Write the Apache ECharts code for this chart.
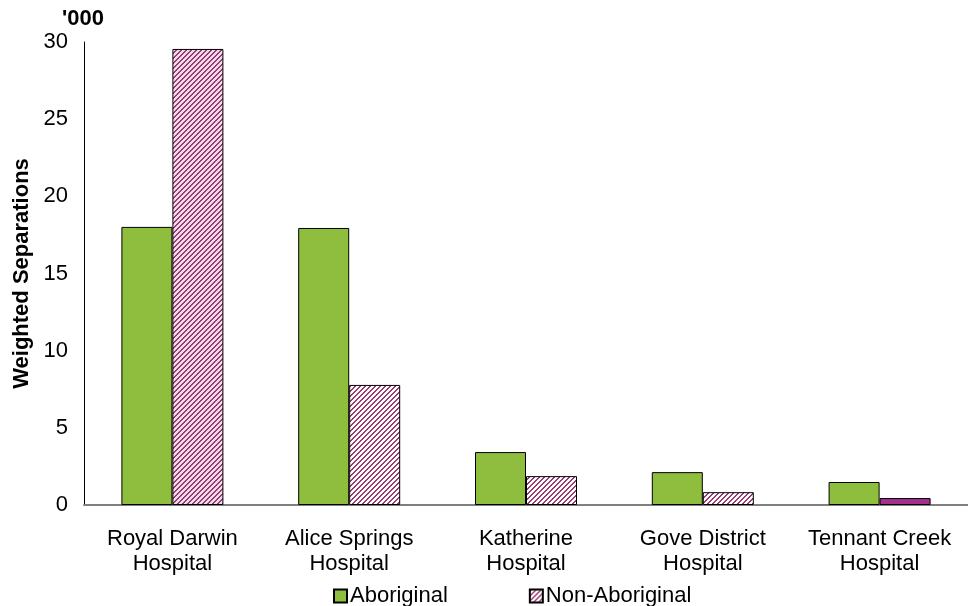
<!DOCTYPE html>
<html>
<head>
<meta charset="utf-8">
<script src="https://cdn.jsdelivr.net/npm/echarts@6/dist/echarts.min.js"></script>
<style>
  html, body { margin: 0; padding: 0; background: #fff; }
  #chart { width: 968px; height: 606px; }
</style>
</head>
<body>
<div id="chart"></div>
<script>
// Weighted separations ('000) by hospital
const hospitals = ['Royal Darwin\nHospital', 'Alice Springs\nHospital', 'Katherine\nHospital', 'Gove District\nHospital', 'Tennant Creek\nHospital'];
const aboriginal = [18.02, 17.95, 3.43, 2.13, 1.49];
const nonAboriginal = [29.55, 7.78, 1.87, 0.83, 0.45];
const yTicks = { min: 0, max: 30, interval: 5 };

const FONT = 'Liberation Sans, Arial, sans-serif';
const FS = 22;
const GREEN = '#8fbd3e';
const MAROON = '#9c3a72';

// Diagonal "/" hatch tile
function hatch(bg, fg) {
  const n = 5;
  const c = document.createElement('canvas');
  c.width = n; c.height = n;
  const ctx = c.getContext('2d');
  ctx.fillStyle = bg;
  ctx.fillRect(0, 0, n, n);
  ctx.fillStyle = fg;
  for (let x = 0; x < n; x++) {
    for (let y = 0; y < n; y++) {
      const k = (x + y) % n;
      if (k === 0 || k === 1) ctx.fillRect(x, y, 1, 1);
    }
  }
  return { image: c, repeat: 'repeat' };
}

const hatchWhite = hatch('#ffffff', MAROON);
const hatchPink = hatch('#f5d8ee', '#94406f');

const nonData = nonAboriginal.map((v, i) => {
  if (i === 0) return { value: v, itemStyle: { color: hatchPink } };
  if (v < 0.6) return { value: v, itemStyle: { color: '#a2308c' } };
  return v;
});

const chart = echarts.init(document.getElementById('chart'), null, { renderer: 'canvas' });
chart.setOption({
  animation: false,
  backgroundColor: '#ffffff',
  grid: { left: 84, right: 0, top: 42, bottom: 101, containLabel: false, outerBoundsMode: 'none' },
  legend: {
    top: 580,
    left: 328,
    itemGap: 81,
    itemWidth: 13,
    itemHeight: 13,
    icon: 'rect',
    textStyle: { fontFamily: FONT, fontSize: FS, color: '#000', padding: [0, 0, 0, -2] },
    data: ['Aboriginal', 'Non-Aboriginal']
  },
  graphic: [
    {
      type: 'text', left: 62, top: 8,
      style: { text: "'000", font: 'bold ' + FS + 'px ' + FONT, fill: '#000' }
    }
  ],
  xAxis: {
    type: 'category',
    data: hospitals,
    axisLine: { show: true, lineStyle: { color: '#808080', width: 2 } },
    axisTick: { show: false },
    axisLabel: { fontFamily: FONT, fontSize: FS, color: '#000', lineHeight: 25, margin: 21, interval: 0 }
  },
  yAxis: {
    type: 'value',
    min: yTicks.min, max: yTicks.max, interval: yTicks.interval,
    name: 'Weighted Separations',
    nameLocation: 'middle',
    nameRotate: 90,
    nameGap: 51,
    nameTextStyle: { fontFamily: FONT, fontSize: FS, fontWeight: 'bold', color: '#000' },
    axisLine: { show: true, lineStyle: { color: '#000', width: 1 } },
    axisTick: { show: false },
    splitLine: { show: false },
    axisLabel: { fontFamily: FONT, fontSize: FS, color: '#000', margin: 16 }
  },
  series: [
    {
      name: 'Aboriginal',
      type: 'bar',
      data: aboriginal,
      barWidth: 51,
      barGap: '0%',
      itemStyle: { color: GREEN, borderColor: '#000', borderWidth: 1 }
    },
    {
      name: 'Non-Aboriginal',
      type: 'bar',
      data: nonData,
      barWidth: 51,
      barGap: '0%',
      itemStyle: { color: hatchWhite, borderColor: '#000', borderWidth: 1 }
    }
  ]
});
</script>
</body>
</html>
